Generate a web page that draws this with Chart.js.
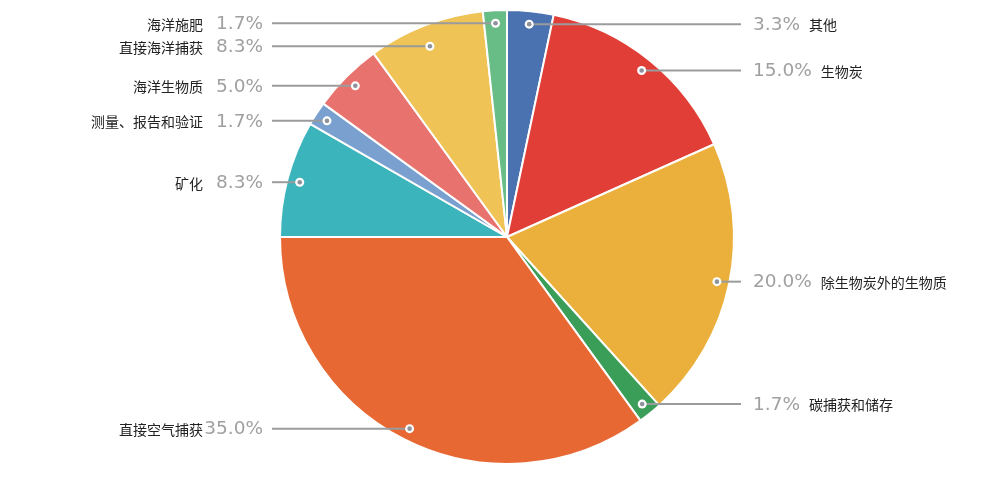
<!DOCTYPE html>
<html>
<head>
<meta charset="utf-8">
<script src="https://cdn.jsdelivr.net/npm/chart.js@4/dist/chart.umd.min.js"></script>
<style>
html,body{margin:0;padding:0;background:#fff;}
#wrap{width:1000px;height:477px;position:relative;}
</style>
</head>
<body>
<div id="wrap"><canvas id="c" width="1000" height="477"></canvas></div>
<script>
const categories = ["其他","生物炭","除生物炭外的生物质","碳捕获和储存","直接空气捕获","矿化","测量、报告和验证","海洋生物质","直接海洋捕获","海洋施肥"];
const values = [3.3, 15.0, 20.0, 1.7, 35.0, 8.3, 1.7, 5.0, 8.3, 1.7];
const colors = ["#4a71b0","#e03e36","#ebb03b","#3a9e58","#e86834","#3bb4bb","#7aa0cf","#e8736e","#efc355","#68bc85"];

const labelPlugin = {
  id: 'leaderLabels',
  afterDatasetsDraw(chart) {
    const ctx = chart.ctx;
    const meta = chart.getDatasetMeta(0);
    const items = [];
    meta.data.forEach((arc, i) => {
      const p = arc.getProps(['x','y','startAngle','endAngle','outerRadius'], true);
      const mid = (p.startAngle + p.endAngle) / 2;
      const r = p.outerRadius * 0.945;
      const dx = p.x + r * Math.cos(mid);
      const dy = p.y + r * Math.sin(mid);
      items.push({i, cx: p.x, cy: p.y, R: p.outerRadius, dx, dy, ly: dy, right: dx >= p.x});
    });
    [true, false].forEach(side => {
      const arr = items.filter(t => t.right === side).sort((a, b) => a.dy - b.dy);
      let prev = -1e9;
      arr.forEach(t => { t.ly = Math.max(t.dy, prev + 23); prev = t.ly; });
    });
    items.forEach(t => {
      const y = t.ly + 0.5;
      const lineEnd = t.right ? t.cx + 234 : t.cx - 235;
      ctx.save();
      ctx.strokeStyle = '#9a9b9d';
      ctx.lineWidth = 2;
      ctx.beginPath();
      ctx.moveTo(t.dx, y);
      ctx.lineTo(lineEnd, y);
      ctx.stroke();
      ctx.fillStyle = '#ffffff';
      ctx.beginPath(); ctx.arc(t.dx, y, 4.5, 0, Math.PI * 2); ctx.fill();
      ctx.fillStyle = '#8d929b';
      ctx.beginPath(); ctx.arc(t.dx, y, 2.3, 0, Math.PI * 2); ctx.fill();
      const pct = values[t.i].toFixed(1) + '%';
      ctx.textBaseline = 'middle';
      ctx.font = '18.5px "DejaVu Sans", sans-serif';
      ctx.fillStyle = '#a0a0a0';
      if (t.right) {
        const px = lineEnd + 12;
        ctx.textAlign = 'left';
        ctx.fillText(pct, px, y + 1);
        const w = ctx.measureText(pct).width;
        ctx.font = '14px "Noto Sans CJK SC", sans-serif';
        ctx.fillStyle = '#222222';
        ctx.fillText(categories[t.i], px + w + 9, y + 1);
      } else {
        ctx.textAlign = 'right';
        ctx.fillText(pct, lineEnd - 9, y + 1);
        ctx.font = '14px "Noto Sans CJK SC", sans-serif';
        ctx.fillStyle = '#222222';
        ctx.fillText(categories[t.i], lineEnd - 69, y + 1);
      }
      ctx.restore();
    });
  }
};

new Chart(document.getElementById('c'), {
  type: 'pie',
  data: {
    labels: categories,
    datasets: [{
      data: values,
      backgroundColor: colors,
      borderColor: '#ffffff',
      borderWidth: 2
    }]
  },
  options: {
    responsive: false,
    animation: false,
    layout: { padding: { left: 100, right: 86, top: 9, bottom: 12 } },
    plugins: { legend: { display: false }, tooltip: { enabled: false } }
  },
  plugins: [labelPlugin]
});
</script>
</body>
</html>
